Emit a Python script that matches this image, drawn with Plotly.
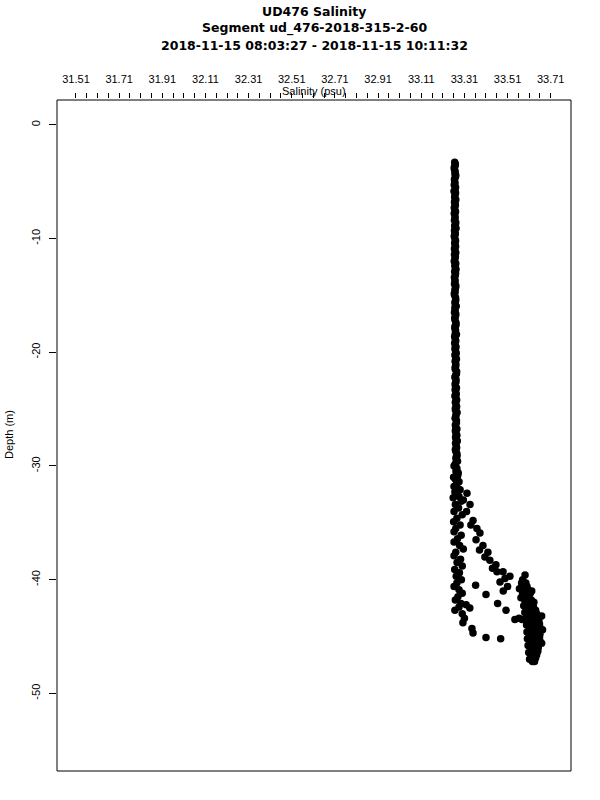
import plotly.graph_objects as go

# ---------------- data ----------------
depth_upper = [-3.3, -3.6, -3.9, -4.3, -4.6, -5.0, -5.3, -5.7, -6.0, -6.4,
               -6.8, -7.1, -7.5, -7.8, -8.2, -8.6, -8.9, -9.3, -9.6, -10.0,
               -10.4, -10.7, -11.1, -11.4, -11.8, -12.2, -12.5, -12.9, -13.2, -13.6,
               -14.0, -14.3, -14.7, -15.0, -15.4, -15.8, -16.1, -16.5, -16.8, -17.2,
               -17.6, -17.9, -18.3, -18.6, -19.0, -19.4, -19.7, -20.1, -20.4, -20.8,
               -21.2, -21.5, -21.9, -22.2, -22.6, -23.0, -23.3, -23.7, -24.0, -24.4,
               -24.8, -25.1, -25.5, -25.8, -26.2, -26.6, -26.9, -27.3, -27.6, -28.0,
               -28.4, -28.7, -29.1, -29.4, -29.8, -30.2, -30.5, -30.9, -31.2, -31.6,
               -32.0, -32.3, -32.7]
sal_upper = [33.265, 33.267, 33.264, 33.266, 33.268, 33.265, 33.263, 33.267, 33.269, 33.265,
             33.264, 33.268, 33.266, 33.263, 33.267, 33.270, 33.265, 33.264, 33.268, 33.266,
             33.265, 33.269, 33.267, 33.264, 33.266, 33.270, 33.267, 33.265, 33.268, 33.266,
             33.264, 33.269, 33.267, 33.265, 33.270, 33.268, 33.266, 33.264, 33.269, 33.267,
             33.271, 33.266, 33.268, 33.265, 33.270, 33.268, 33.266, 33.272, 33.269, 33.267,
             33.270, 33.268, 33.273, 33.266, 33.271, 33.269, 33.267, 33.272, 33.270, 33.268,
             33.274, 33.269, 33.271, 33.267, 33.273, 33.270, 33.268, 33.275, 33.271, 33.269,
             33.274, 33.270, 33.276, 33.272, 33.268, 33.275, 33.271, 33.278, 33.269, 33.274,
             33.280, 33.266, 33.285]

depth_upper2 = [-3.45, -3.75, -4.1, -4.45, -4.8, -5.15, -5.5, -5.85, -6.2, -6.6,
                -6.95, -7.3, -7.65, -8.0, -8.4, -8.75, -9.1, -9.45, -9.8, -10.2,
                -10.55, -10.9, -11.25, -11.6, -12.0, -12.35, -12.7, -13.05, -13.4, -13.8,
                -14.15, -14.5, -14.85, -15.2, -15.6, -15.95, -16.3, -16.65, -17.0, -17.4,
                -17.75, -18.1, -18.45, -18.8, -19.2, -19.55, -19.9, -20.25, -20.6, -21.0,
                -21.35, -21.7, -22.05, -22.4, -22.8, -23.15, -23.5, -23.85, -24.2, -24.6,
                -24.95, -25.3, -25.65, -26.0, -26.4, -26.75, -27.1, -27.45, -27.8, -28.2,
                -28.55, -28.9, -29.25, -29.6, -30.0, -30.35, -30.7, -31.05, -31.4, -31.8,
                -32.15, -32.5]
sal_upper2 = [33.268, 33.263, 33.267, 33.270, 33.264, 33.266, 33.269, 33.262, 33.266, 33.270,
              33.267, 33.263, 33.269, 33.266, 33.264, 33.268, 33.271, 33.266, 33.263, 33.269,
              33.267, 33.264, 33.270, 33.268, 33.263, 33.266, 33.271, 33.269, 33.264, 33.267,
              33.270, 33.266, 33.263, 33.269, 33.266, 33.272, 33.267, 33.270, 33.265, 33.271,
              33.266, 33.269, 33.273, 33.267, 33.265, 33.271, 33.269, 33.266, 33.273, 33.270,
              33.267, 33.274, 33.269, 33.271, 33.267, 33.273, 33.270, 33.266, 33.274, 33.271,
              33.268, 33.276, 33.270, 33.273, 33.268, 33.275, 33.271, 33.269, 33.277, 33.272,
              33.268, 33.275, 33.271, 33.278, 33.266, 33.273, 33.280, 33.268, 33.277, 33.264,
              33.282, 33.270]

depth_left = [-30.0, -30.6, -31.0, -31.4, -31.8, -32.1, -32.5, -32.8, -33.1, -33.4,
              -33.7, -34.0, -34.3, -34.6, -34.9, -35.2, -35.5, -35.8, -36.1, -36.4,
              -36.7, -37.0, -37.3, -37.6, -37.9, -38.2, -38.5, -38.8, -39.1, -39.4,
              -39.7, -40.0, -40.3, -40.6, -40.9, -41.2, -41.5, -41.8, -42.1, -42.4,
              -42.7, -43.0, -43.4, -43.8, -44.3, -44.7, -45.1, -45.2, -42.2, -42.5]
sal_left = [33.262, 33.281, 33.260, 33.285, 33.262, 33.290, 33.275, 33.258, 33.295, 33.268,
            33.283, 33.262, 33.300, 33.275, 33.260, 33.290, 33.270, 33.262, 33.295, 33.278,
            33.262, 33.288, 33.305, 33.270, 33.262, 33.292, 33.276, 33.300, 33.265, 33.287,
            33.272, 33.296, 33.275, 33.262, 33.285, 33.300, 33.280, 33.268, 33.294, 33.285,
            33.266, 33.300, 33.310, 33.303, 33.345, 33.350, 33.410, 33.478, 33.318, 33.335]

depth_right = [-32.4, -33.0, -33.4, -34.0, -34.8, -35.2, -35.5, -35.9, -36.5, -37.0,
               -37.4, -37.6, -38.0, -38.3, -38.7, -39.0, -39.3, -39.3, -39.7, -39.9,
               -40.2, -40.5, -40.6, -41.0, -41.3, -42.1, -42.7, -43.5, -43.4, -43.5,
               -39.6]
sal_right = [33.322, 33.305, 33.336, 33.320, 33.350, 33.340, 33.368, 33.382, 33.364, 33.396,
             33.380, 33.419, 33.405, 33.428, 33.456, 33.440, 33.461, 33.489, 33.521, 33.498,
             33.475, 33.362, 33.510, 33.490, 33.410, 33.464, 33.503, 33.544, 33.563, 33.577,
             33.591]

depth_bottom = [-40.0, -40.3, -40.3, -40.6, -40.6, -40.9, -40.9, -41.2, -41.2, -41.2,
                -41.5, -41.5, -41.8, -41.8, -41.8, -42.1, -42.1, -42.4, -42.4, -42.4,
                -42.7, -42.7, -42.7, -43.0, -43.0, -43.0, -43.3, -43.3, -43.3, -43.6,
                -43.6, -43.6, -43.9, -43.9, -43.9, -44.2, -44.2, -44.2, -44.5, -44.5,
                -44.5, -44.8, -44.8, -44.8, -45.1, -45.1, -45.1, -45.4, -45.4, -45.4,
                -45.7, -45.7, -45.7, -46.0, -46.0, -46.0, -46.3, -46.3, -46.3, -46.6,
                -46.6, -46.9, -46.9, -47.2, -47.2,
                -40.8, -41.6, -42.3, -42.9, -43.5, -44.0, -44.6, -45.2, -45.8, -46.4,
                -47.0, -43.2, -44.4, -45.6, -41.0, -42.0]
sal_bottom = [33.580, 33.575, 33.595, 33.578, 33.600, 33.582, 33.605, 33.580, 33.600, 33.615,
              33.585, 33.610, 33.590, 33.605, 33.620, 33.592, 33.615, 33.595, 33.612, 33.630,
              33.598, 33.620, 33.640, 33.600, 33.625, 33.645, 33.605, 33.630, 33.650, 33.600,
              33.625, 33.655, 33.610, 33.635, 33.658, 33.612, 33.640, 33.660, 33.615, 33.638,
              33.662, 33.612, 33.642, 33.660, 33.615, 33.635, 33.658, 33.618, 33.640, 33.660,
              33.615, 33.632, 33.655, 33.620, 33.640, 33.652, 33.618, 33.635, 33.650, 33.620,
              33.645, 33.622, 33.640, 33.625, 33.635,
              33.565, 33.572, 33.585, 33.590, 33.592, 33.598, 33.600, 33.602, 33.605, 33.608,
              33.612, 33.668, 33.672, 33.668, 33.622, 33.632]

x_tick_labels = ["31.51", "31.71", "31.91", "32.11", "32.31", "32.51",
                 "32.71", "32.91", "33.11", "33.31", "33.51", "33.71"]
y_tick_values = [0, -10, -20, -30, -40, -50]
y_tick_labels = ["0", "-10", "-20", "-30", "-40", "-50"]

title_lines = ["UD476 Salinity",
               "Segment ud_476-2018-315-2-60",
               "2018-11-15 08:03:27 - 2018-11-15 10:11:32"]

# ---------------- figure ----------------
sal = sal_upper + sal_upper2 + sal_left + sal_right + sal_bottom
depth = depth_upper + depth_upper2 + depth_left + depth_right + depth_bottom

# ticks every 0.05 between first and last labelled value, label every 4th
first = float(x_tick_labels[0])
last = float(x_tick_labels[-1])
n_ticks = int(round((last - first) / 0.05)) + 1
x_tick_vals = [round(first + 0.05 * i, 2) for i in range(n_ticks)]
x_tick_text = [f"{v:.2f}" if f"{v:.2f}" in x_tick_labels else "" for v in x_tick_vals]

FONT = "Liberation Sans, Arial, Helvetica, sans-serif"
TITLE_FONT = "DejaVu Sans, Liberation Sans, Arial, sans-serif"

fig = go.Figure()
fig.add_trace(go.Scatter(
    x=sal, y=depth, mode="markers",
    marker=dict(color="black", size=7.5, line=dict(width=0)),
    showlegend=False, hoverinfo="skip",
))

W, H = 600, 800
L, R = 57, 29
top_axis_px = 98        # where top ticks start
box_top_px = 100
box_bottom_px = 771
plot_h = box_bottom_px - top_axis_px
plot_w = W - L - R
ydom_top = (box_bottom_px - box_top_px) / plot_h


def py(ypx):
    return (box_bottom_px - ypx) / plot_h


annotations = [
    dict(text=f"<b>{t}</b>", xref="paper", yref="paper", x=0.5, y=py(yc),
         xanchor="center", yanchor="middle", showarrow=False,
         font=dict(family=TITLE_FONT, size=12.5, color="black"))
    for t, yc in zip(title_lines, [11, 28, 45])
]
annotations += [
    dict(text="Salinity (psu)", xref="paper", yref="paper",
         x=0.5, y=py(91), xanchor="center", yanchor="middle", showarrow=False,
         font=dict(family=FONT, size=11, color="black")),
    dict(text="Depth (m)", xref="paper", yref="paper",
         x=(9 - L) / plot_w, y=py(435),
         xanchor="center", yanchor="middle", textangle=-90, showarrow=False,
         font=dict(family=FONT, size=11, color="black")),
]

fig.update_layout(
    width=W, height=H,
    margin=dict(l=L, r=R, t=top_axis_px, b=H - box_bottom_px, autoexpand=False),
    paper_bgcolor="white", plot_bgcolor="white",
    font=dict(family=FONT, color="black", size=11),
    xaxis=dict(
        range=[31.422, 33.804], side="top", anchor="free", position=1,
        automargin=False,
        showgrid=False, zeroline=False, showline=False,
        tickmode="array", tickvals=x_tick_vals, ticktext=x_tick_text,
        ticks="outside", ticklen=5, tickwidth=1, tickcolor="black",
        ticklabelstandoff=6,
        tickfont=dict(family=FONT, size=11, color="black"),
    ),
    yaxis=dict(
        range=[-56.83, 2.18], domain=[0, ydom_top], automargin=False,
        showgrid=False, zeroline=False, showline=False,
        tickmode="array", tickvals=y_tick_values, ticktext=y_tick_labels,
        ticks="outside", ticklen=7, tickwidth=1, tickcolor="black",
        tickangle=-90, ticklabelstandoff=5,
        tickfont=dict(family=FONT, size=11, color="black"),
    ),
    shapes=[dict(type="rect", xref="x domain", yref="y domain",
                 x0=0, x1=1, y0=0, y1=1,
                 line=dict(color="black", width=1), fillcolor="rgba(0,0,0,0)")],
    annotations=annotations,
)

fig.write_html("out.html",
               config={"displayModeBar": False, "staticPlot": True},
               post_script="document.body.style.margin='0';document.body.style.padding='0';")
